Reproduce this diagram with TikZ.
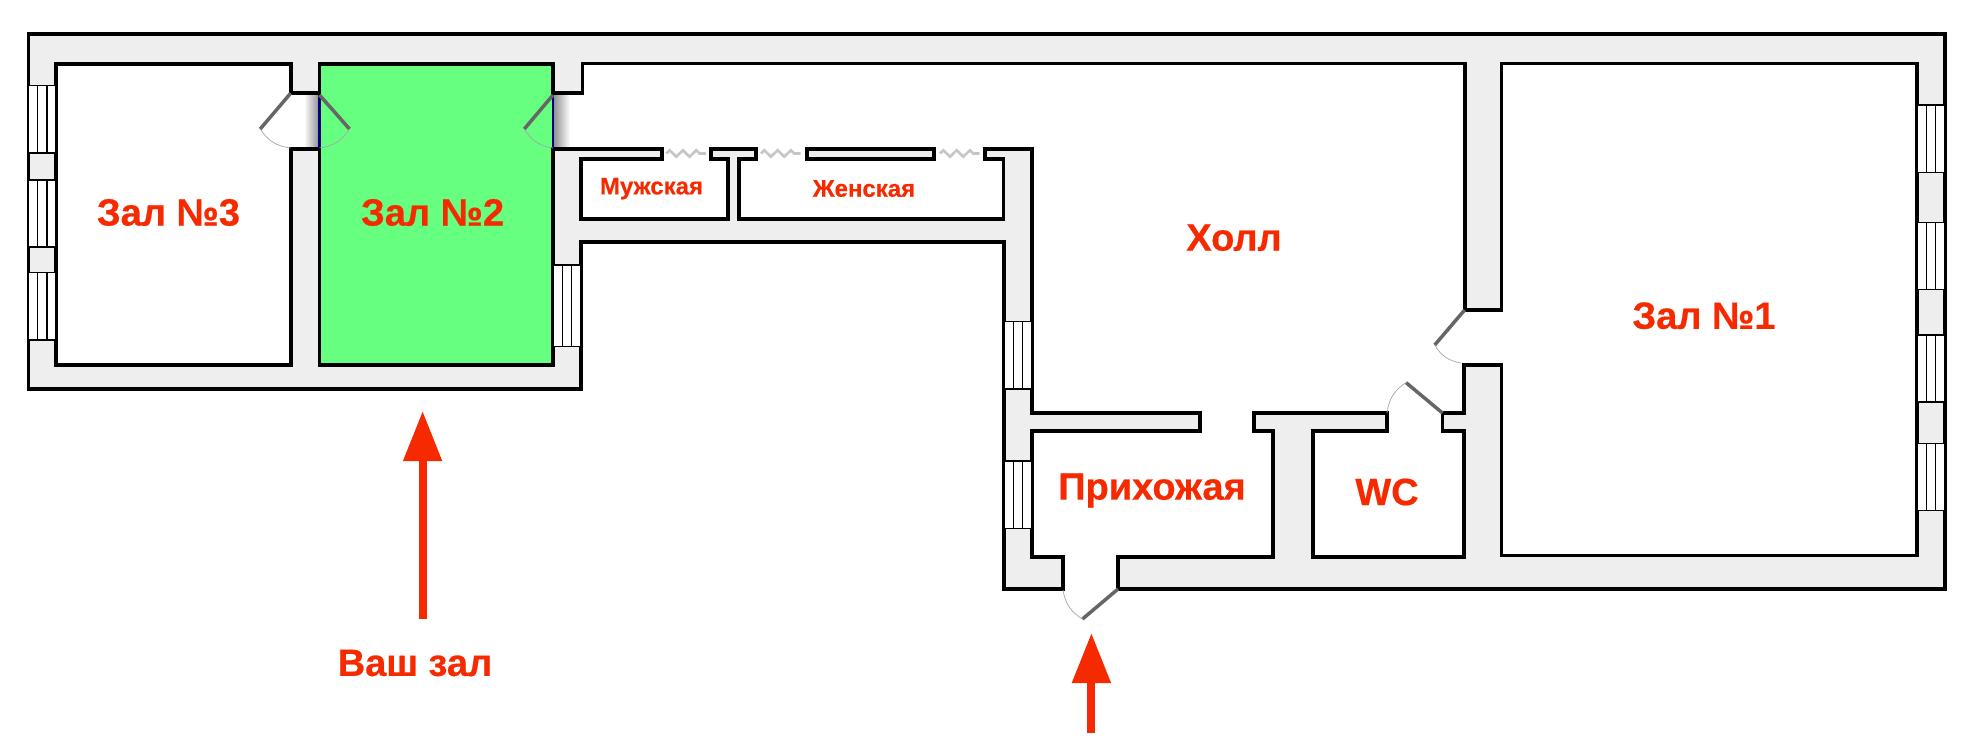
\documentclass[tikz,border=0pt]{standalone}
\usepackage{fontspec}
\setmainfont{Liberation Sans}[BoldFeatures={FakeBold=0.5}]
\usetikzlibrary{arrows.meta,decorations.pathmorphing}
\definecolor{wallgray}{HTML}{EEEEEE}
\definecolor{roomgreen}{HTML}{66FF80}
\definecolor{labelred}{HTML}{F62A00}
\tikzset{
  wall/.style={draw=black,fill=wallgray,line width=3.8pt,line join=miter},
  leaf/.style={draw=black!60,line width=3.5pt},
  swing/.style={draw=gray!70,line width=0.7pt},
  pane/.style={draw=black,line width=1.4pt},
  slide/.style={draw=gray!45,line width=2.6pt,decorate,decoration={zigzag,segment length=13.3pt,amplitude=3.2pt}},
  bigroom/.style={text=labelred,font=\bfseries\fontsize{38}{38}\selectfont},
  smallroom/.style={text=labelred,font=\bfseries\fontsize{24}{24}\selectfont},
  redarrow/.style={draw=labelred,line width=8pt,-{Triangle[length=50pt,width=37pt]}}
}
\begin{document}
\begin{tikzpicture}[x=1pt,y=-1pt]
\useasboundingbox (0,0) rectangle (1972,749);

\fill[roomgreen] (319.5,64) rectangle (553,364.7);
\shade[left color=white,right color=black!45] (304,93) rectangle (319.5,149);
\shade[left color=black!45,right color=white] (553,93) rectangle (570,149);

\draw[wall] (28.5,34) -- (1944.7,34) -- (1944.7,589) -- (1118,589) -- (1118,556.7) -- (1273,556.7) -- (1273,431) -- (1254,431) -- (1254,413.3)
  -- (1387,413.3) -- (1387,431) -- (1313,431) -- (1313,556.7) -- (1464,556.7) -- (1464,431) -- (1442.5,431) -- (1442.5,413.3) -- (1464,413.3)
  -- (1464,365) -- (1501.4,365) -- (1501.4,555.5) -- (1917.3,555.5) -- (1917.3,63.5) -- (1501.4,63.5) -- (1501.4,310) -- (1464.6,310) -- (1464.6,63.5)
  -- (582.5,63.5) -- (582.5,93) -- (553,93) -- (553,64) -- (319.5,64) -- (319.5,93) -- (290.6,93) -- (290.6,64) -- (56,64) -- (56,364.7)
  -- (290.6,364.7) -- (290.6,149) -- (319.5,149) -- (319.5,364.7) -- (553,364.7) -- (553,149.3) -- (661.9,149.3) -- (661.9,159.3) -- (581,159.3)
  -- (581,218.7) -- (728.3,218.7) -- (728.3,159.3) -- (711,159.3) -- (711,149.3) -- (756,149.3) -- (756,159.3) -- (738.7,159.3) -- (738.7,218.7)
  -- (1003.5,218.7) -- (1003.5,159.3) -- (985,159.3) -- (985,149.3) -- (1031.7,149.3) -- (1031.7,413.3) -- (1199.6,413.3) -- (1199.6,431) -- (1031.7,431)
  -- (1031.7,556.7) -- (1063,556.7) -- (1063,589) -- (1004,589) -- (1004,241.7) -- (581,241.7) -- (581,389) -- (28.5,389) -- cycle;
\draw[wall] (806.8,149.3) rectangle (934.3,159.3);
\draw[draw=blue!50!black,line width=2.5pt] (319.5,95) -- (319.5,148);
\draw[draw=blue!50!black,line width=2.5pt] (553,95) -- (553,148);

\foreach \xa/\xb/\ya/\yb in {28.5/56/85.7/153,28.5/56/180/247,28.5/56/272.7/340,553/581/265/346.7,1004/1031.7/321.5/389,1004/1031.7/461/528.3,1917.3/1944.7/105/172.7,1917.3/1944.7/222.5/289.7,1917.3/1944.7/335/402,1917.3/1944.7/443.5/510.7}{
  \filldraw[pane,fill=white] (\xa,\ya) rectangle (\xb,\yb);
  \draw[pane] ({\xa+(\xb-\xa)/3},\ya) -- ({\xa+(\xb-\xa)/3},\yb);
  \draw[pane] ({\xa+2*(\xb-\xa)/3},\ya) -- ({\xa+2*(\xb-\xa)/3},\yb);
}

\draw[leaf] (290.6,93.3) -- (260.2,129);
\draw[swing] (260.2,129) to[bend right=25] (290.6,148);
\draw[leaf] (319.5,95) -- (349.5,129);
\draw[swing] (349.5,129) to[bend left=25] (319.5,148);
\draw[leaf] (553,95) -- (524.3,129);
\draw[swing] (524.3,129) to[bend right=25] (553,148);
\draw[leaf] (1464.6,310) -- (1434.7,345);
\draw[swing] (1434.7,345) to[bend right=25] (1461,363);
\draw[leaf] (1442.5,413) -- (1406,382.6);
\draw[swing] (1406,382.6) to[bend right=25] (1387,413);
\draw[leaf] (1118,589) -- (1082.5,619);
\draw[swing] (1082.5,619) to[bend left=25] (1063,590);

\draw[slide] (666.3,153.5) -- (706,153.5);
\draw[slide] (761,153.5) -- (800.6,153.5);
\draw[slide] (940,153.5) -- (979.7,153.5);

\node[bigroom] (hallthree) at (168.5,212.5) {Зал №3};
\node[bigroom] (halltwo) at (432.6,212.5) {Зал №2};
\node[bigroom] (hallone) at (1704,315.7) {Зал №1};
\node[bigroom] (foyer) at (1234,237.7) {Холл};
\node[smallroom] (mens) at (651.5,188.6) {Мужская};
\node[smallroom] (womens) at (864,188.6) {Женская};
\node[bigroom] (lobby) at (1152,490.5) {Прихожая};
\node[bigroom] (wc) at (1387,492) {WC};
\node[bigroom] (yourhall) at (415,663) {Ваш зал};

\coordinate (yourtail) at (422.6,619);
\coordinate (yourtip) at (422.6,411);
\coordinate (entrytail) at (1091.4,733);
\coordinate (entrytip) at (1091.4,633);
\draw[redarrow] (yourtail) -- (yourtip);
\draw[redarrow] (entrytail) -- (entrytip);
\end{tikzpicture}
\end{document}
